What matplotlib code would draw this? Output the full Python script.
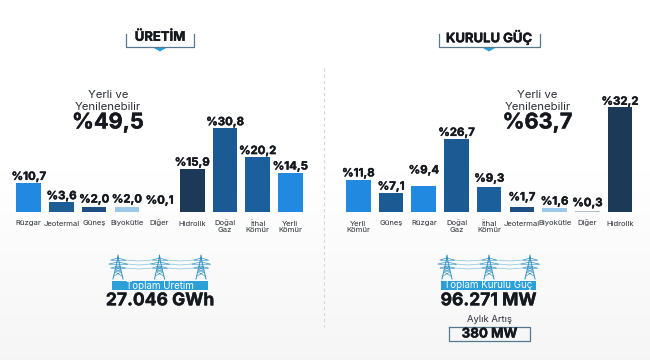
# -*- coding: utf-8 -*-

import numpy as np
import matplotlib
matplotlib.use('Agg')
import matplotlib.pyplot as plt
import matplotlib.patheffects as pe

W = 650
H = 360

plt.rcParams['font.family'] = ['Inter', 'DejaVu Sans']

# values
uretim_names = ['Rüzgar', 'Jeotermal', 'Güneş', 'Biyokütle', 'Diğer', 'Hidrolik', 'Doğal\nGaz', 'İthal\nKömür', 'Yerli\nKömür']
uretim_values = [10.7, 3.6, 2.0, 2.0, 0.1, 15.9, 30.8, 20.2, 14.5]
uretim_labels = ['%10,7', '%3,6', '%2,0', '%2,0', '%0,1', '%15,9', '%30,8', '%20,2', '%14,5']
uretim_colors = ['#2289e0', '#1d5e94', '#1d4f82', '#9cc8ea', '#b4bcc4', '#1c3a58', '#1b5a92', '#1b5f9c', '#2289e0']
# pixels between bar top and label baseline
uretim_gaps = [3, 3, 4, 4, 8, 3, 3, 3, 3]

kurulu_names = ['Yerli\nKömür', 'Güneş', 'Rüzgar', 'Doğal\nGaz', 'İthal\nKömür', 'Jeotermal', 'Biyokütle', 'Diğer', 'Hidrolik']
# the last bar is drawn taller than its 32,2 in the original graphic
kurulu_values = [11.8, 7.1, 9.4, 26.7, 9.3, 1.7, 1.6, 0.3, 38.5]
kurulu_labels = ['%11,8', '%7,1', '%9,4', '%26,7', '%9,3', '%1,7', '%1,6', '%0,3', '%32,2']
kurulu_colors = ['#2289e0', '#1b5a92', '#2289e0', '#1b5a92', '#1b5f9c', '#1d4f82', '#9cc8ea', '#b4bcc4', '#1c3a58']
kurulu_gaps = [3.5, 3, 13, 3.5, 5, 7, 3, 5, 2.5]

DARK = '#15191f'
BLUE = '#2a9fd8'
FRAME = '#54788f'
HEAVY = [pe.withStroke(linewidth=0.3, foreground=DARK)]

fig = plt.figure(figsize=(W / 100, H / 100), dpi=100, facecolor='white')

# overlay in pixel coords for the decoration
bg = fig.add_axes([0, 0, 1, 1])
# faint grey fade towards the bottom edge
fade = np.clip((np.arange(H) - 150) / (H - 150), 0, 1).reshape(-1, 1)
bg.imshow(1 - 0.04 * fade, cmap='gray', vmin=0, vmax=1, extent=(0, W, H, 0), aspect='auto')
bg.set_xlim(0, W)
bg.set_ylim(H, 0)
bg.axis('off')


def bold(x, y, s, size):
    bg.text(x, y, s, ha='center', va='center', fontsize=size, fontweight='bold', color=DARK, path_effects=HEAVY)


def draw_bars(left, names, values, labels, colors, gaps):
    # 32.7 px per category, 2.72 px per percent, baseline at y=212
    ax = fig.add_axes([left / W, (H - 212) / H, 294.3 / W, 120 / H])
    ax.patch.set_alpha(0)
    ax.set_xlim(-0.5, 8.5)
    ax.set_ylim(0, 120 / 2.72)
    ax.axis('off')
    x = range(len(values))
    ax.bar(x, values, width=0.75, color=colors)
    for i in x:
        # dpi is 100, so 0.72 pt is one pixel
        ax.annotate(labels[i], (i, values[i]), xytext=(0, gaps[i] * 0.72), textcoords='offset points',
                    ha='center', va='baseline', fontsize=8.2, fontweight='bold', color=DARK,
                    path_effects=HEAVY)
        for k, line in enumerate(names[i].split('\n')):
            ax.annotate(line, (i, 0), xytext=(0, -(13.5 + 7 * k) * 0.72), textcoords='offset points',
                        ha='center', va='baseline', fontsize=5.5, color='#2a2f36',
                        annotation_clip=False)


def title_box(x0, x1, text):
    bg.plot([x0, x0, x1, x1], [33.5, 47, 47, 33.5], color=FRAME, lw=0.9)
    c = (x0 + x1) / 2
    bg.fill([c - 7, c + 7, c], [47.5, 47.5, 51.5], color=BLUE, lw=0)
    bold(c, 37.7, text, 9.4)


def tower(x):
    # one pylon, base at y=279, tip at y=255
    c = '#2d8fc0'
    bg.plot([x - 5, x - 1, x, x + 1, x + 5], [279, 262, 255, 262, 279], color=c, lw=0.7)
    bg.plot([x - 4, x + 3, x - 2.5, x + 2, x - 2, x + 2.5, x - 3, x + 4],
            [276, 272, 270, 267, 267, 270, 272, 276], color=c, lw=0.4)
    for y, half in [(259, 7), (263, 9), (267, 7)]:
        bg.plot([x - half, x, x + half], [y + 1, y - 1, y + 1], color=c, lw=0.5)
        bg.plot([x - half, x + half], [y + 1, y + 1], color=c, lw=0.4)


def towers(xs, x0, x1, band_text, total):
    for a, b in zip(xs[:-1], xs[1:]):
        for y, h in [(260, 7), (264, 9), (268, 7)]:
            bg.plot([a + h, (a + b) / 2, b - h], [y, y + 1, y], color='#86c3de', lw=0.5)
    for x in xs:
        tower(x)
    bg.fill([x0, x1, x1, x0], [281, 281, 289.5, 289.5], color=BLUE, lw=0)
    c = (x0 + x1) / 2
    bg.text(c, 285.3, band_text, ha='center', va='center', fontsize=7, color='white')
    bold(c, 300.8, total, 12.6)


draw_bars(12.4, uretim_names, uretim_values, uretim_labels, uretim_colors, uretim_gaps)
draw_bars(342, kurulu_names, kurulu_values, kurulu_labels, kurulu_colors, kurulu_gaps)

title_box(126, 194, 'ÜRETİM')
title_box(438.5, 539.5, 'KURULU GÜÇ')

# yerli ve yenilenebilir
for cx, share in [(108, '%49,5'), (537.5, '%63,7')]:
    bg.text(cx, 95.5, 'Yerli ve', ha='center', va='center', fontsize=8.2, color='#2a2f36')
    bg.text(cx, 106.5, 'Yenilenebilir', ha='center', va='center', fontsize=8.2, color='#2a2f36')
    bold(cx, 122.5, share, 15.6)

towers([118, 159.5, 201], 112, 208, 'Toplam Üretim', '27.046 GWh')
towers([447, 489, 530], 441, 536, 'Toplam Kurulu Güç', '96.271 MW')

bg.text(489, 320, 'Aylık Artış', ha='center', va='center', fontsize=6.8, color='#2a2f36')
bg.plot([449, 530, 530, 449, 449], [327, 327, 341, 341, 327], color=FRAME, lw=0.9)
bold(489.5, 334.5, '380 MW', 9.6)

# separator
bg.plot([324.3, 324.3], [68, 327], color='#d5d8db', lw=0.8, linestyle=(0, (3, 2.5)))

fig.savefig('out.png', dpi=100, facecolor='white')
